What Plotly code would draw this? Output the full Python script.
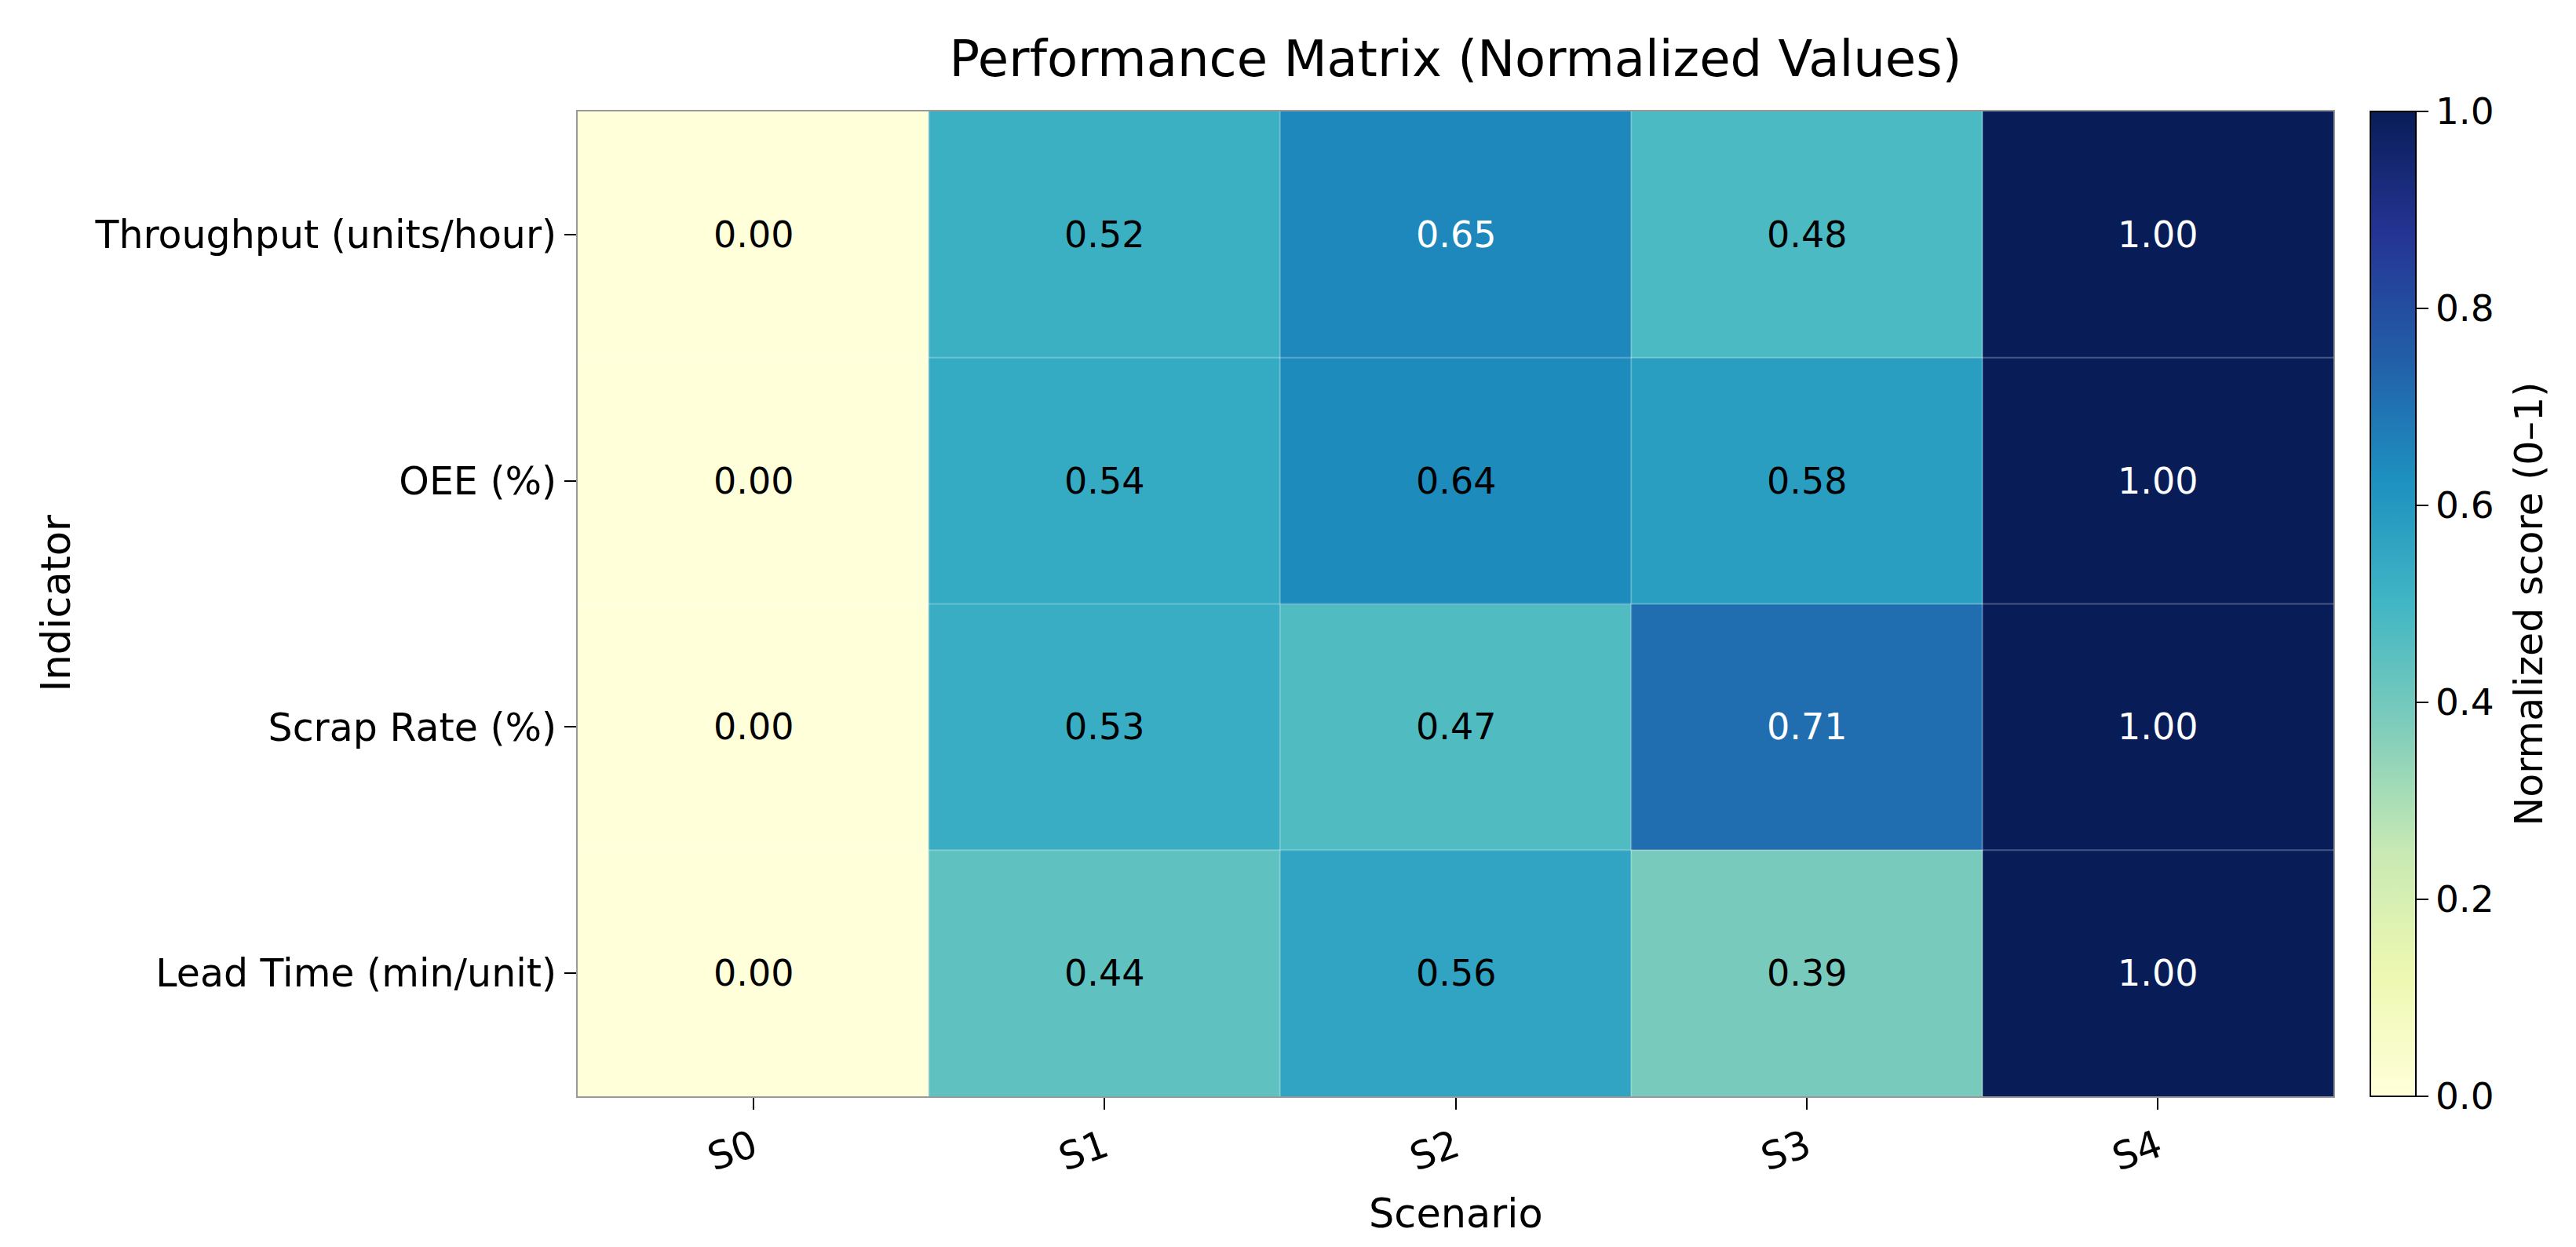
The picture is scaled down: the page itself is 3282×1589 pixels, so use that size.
import plotly.graph_objects as go

scenarios = ["S0", "S1", "S2", "S3", "S4"]
indicators = ["Throughput (units/hour)", "OEE (%)", "Scrap Rate (%)", "Lead Time (min/unit)"]
throughput = [0.00, 0.52, 0.65, 0.48, 1.00]
oee = [0.00, 0.54, 0.64, 0.58, 1.00]
scrap = [0.00, 0.53, 0.47, 0.71, 1.00]
lead = [0.00, 0.44, 0.56, 0.39, 1.00]
cbar_ticks = [0.0, 0.2, 0.4, 0.6, 0.8, 1.0]

z = [throughput, oee, scrap, lead]

ylgnbu = ['#ffffd9', '#edf8b1', '#c7e9b4', '#7fcdbb', '#41b6c4',
          '#1d91c0', '#225ea8', '#253494', '#081d58']
cscale = [[i / (len(ylgnbu) - 1), c] for i, c in enumerate(ylgnbu)]

FONT = "DejaVu Sans"
W, H = 3282, 1589
L, R, T, B = 728, 317, 134, 200
pw = W - L - R
ph = H - T - B

fig = go.Figure()
fig.add_trace(go.Heatmap(
    z=z, x=scenarios, y=indicators, zmin=0, zmax=1,
    colorscale=cscale, hoverinfo="skip",
    colorbar=dict(
        x=1 + (3012 - (W - R)) / pw, xanchor="left", xpad=0,
        y=0.5, yanchor="middle", len=1, lenmode="fraction", ypad=0,
        thickness=58, outlinewidth=2, outlinecolor="black",
        tickvals=cbar_ticks, ticktext=[f"{v:.1f}" for v in cbar_ticks],
        ticks="outside", ticklen=15, tickwidth=2, tickcolor="black",
        tickfont=dict(family=FONT, size=47, color="black"),
    ),
))

# subtle white separators between cells
for i in range(1, len(scenarios)):
    fig.add_shape(type="line", xref="x", yref="paper", x0=i - 0.5, x1=i - 0.5, y0=0, y1=1,
                  line=dict(color="rgba(255,255,255,0.25)", width=2), layer="above")
for j in range(1, len(indicators)):
    fig.add_shape(type="line", xref="paper", yref="y", x0=0, x1=1, y0=j - 0.5, y1=j - 0.5,
                  line=dict(color="rgba(255,255,255,0.25)", width=2), layer="above")

anns = []
for j, ind in enumerate(indicators):
    for i, sc in enumerate(scenarios):
        v = z[j][i]
        anns.append(dict(x=sc, y=ind, xref="x", yref="y", text=f"{v:.2f}", showarrow=False,
                         font=dict(family=FONT, size=46,
                                   color="white" if v >= 0.645 else "black")))
anns.append(dict(text="Indicator", xref="paper", yref="paper", x=(63 - L) / pw, y=0.5,
                 textangle=-90, showarrow=False, xanchor="center", yanchor="middle",
                 font=dict(family=FONT, size=51, color="black")))
anns.append(dict(text="Scenario", xref="paper", yref="paper", x=0.5,
                 y=((H - B) - 1538) / ph, showarrow=False,
                 xanchor="center", yanchor="middle",
                 font=dict(family=FONT, size=51, color="black")))
anns.append(dict(text="Normalized score (0–1)", xref="paper", yref="paper",
                 x=1 + (3214 - (W - R)) / pw, y=0.5, textangle=-90, showarrow=False,
                 xanchor="center", yanchor="middle",
                 font=dict(family=FONT, size=49, color="black")))

fig.update_layout(
    width=W, height=H,
    margin=dict(l=L, r=R, t=T, b=B, autoexpand=False),
    paper_bgcolor="white", plot_bgcolor="white",
    title=dict(text="Performance Matrix (Normalized Values)", x=(L + pw / 2) / W, xanchor="center",
               y=1 - 67 / H, yanchor="middle", yref="container",
               font=dict(family=FONT, size=64, color="black")),
    annotations=anns,
    xaxis=dict(showline=True, linecolor="#999999", linewidth=2, mirror=True,
               ticks="outside", ticklen=15, tickwidth=2, tickcolor="black",
               tickangle=-20, tickfont=dict(family=FONT, size=49, color="black"),
               showgrid=False, zeroline=False),
    yaxis=dict(showline=True, linecolor="#999999", linewidth=2, mirror=True,
               ticks="outside", ticklen=15, tickwidth=2, tickcolor="black",
               autorange="reversed", tickfont=dict(family=FONT, size=49, color="black"),
               showgrid=False, zeroline=False),
)

fig.write_html("out.html")
